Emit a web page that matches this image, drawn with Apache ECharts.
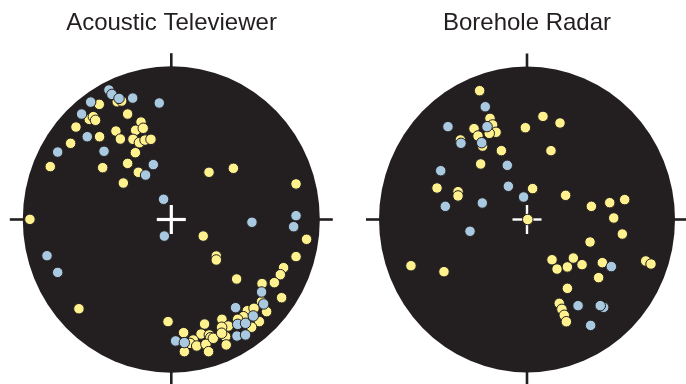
<!DOCTYPE html>
<html>
<head>
<meta charset="utf-8">
<script src="https://cdn.jsdelivr.net/npm/echarts@6/dist/echarts.min.js"></script>
<style>
  html, body { margin: 0; padding: 0; background: #ffffff; }
  #chart { width: 686px; height: 384px; }
</style>
</head>
<body>
<div id="chart"></div>
<script>
// Panel titles
const panelTitles = ['Acoustic Televiewer', 'Borehole Radar'];

// Pole positions on the stereonet, unit circle: [east, north]
const atvYellow = [
  [-0.364, 0.768], [-0.334, 0.773], [-0.485, 0.751], [-0.552, 0.653], [-0.525, 0.671],
  [-0.510, 0.647], [-0.294, 0.688], [-0.204, 0.636], [-0.642, 0.603], [-0.373, 0.577],
  [-0.240, 0.582], [-0.189, 0.595], [-0.483, 0.540], [-0.343, 0.525], [-0.258, 0.523],
  [-0.215, 0.501], [-0.177, 0.518], [-0.137, 0.523], [-0.678, 0.497], [-0.242, 0.436],
  [-0.815, 0.345], [-0.462, 0.338], [-0.294, 0.366], [-0.222, 0.308], [-0.323, 0.238],
  [0.254, 0.308], [0.418, 0.334], [0.840, 0.232], [-0.952, 0.001], [0.911, -0.129],
  [0.215, -0.108], [0.303, -0.238], [0.303, -0.264], [0.840, -0.242], [0.756, -0.314],
  [0.734, -0.360], [0.440, -0.388], [0.611, -0.418], [0.694, -0.412], [0.743, -0.510],
  [0.608, -0.536], [-0.622, -0.582], [0.512, -0.595], [0.557, -0.579], [0.642, -0.601],
  [0.485, -0.634], [0.447, -0.651], [-0.022, -0.666], [0.341, -0.651], [0.224, -0.682],
  [0.384, -0.695], [0.339, -0.703], [0.593, -0.666], [0.541, -0.703], [0.083, -0.738],
  [0.200, -0.747], [0.256, -0.753], [0.265, -0.771], [0.148, -0.786], [0.126, -0.808],
  [0.171, -0.825], [0.233, -0.814], [0.283, -0.775], [0.366, -0.764], [0.370, -0.818],
  [0.088, -0.862], [0.251, -0.862], [0.339, -0.742]
];
const atvBlue = [
  [-0.420, 0.845], [-0.400, 0.816], [-0.352, 0.790], [-0.260, 0.792], [-0.081, 0.760],
  [-0.543, 0.766], [-0.604, 0.688], [-0.566, 0.540], [-0.765, 0.440], [-0.453, 0.445],
  [-0.121, 0.358], [-0.173, 0.290], [-0.052, 0.132], [-0.047, -0.108], [0.543, -0.018],
  [0.840, 0.025], [0.824, -0.047], [-0.837, -0.236], [-0.765, -0.345], [0.608, -0.473],
  [0.622, -0.551], [0.433, -0.575], [0.552, -0.629], [0.447, -0.684], [0.500, -0.677],
  [0.442, -0.760], [0.500, -0.753], [0.029, -0.792], [0.088, -0.803]
];
const radarYellow = [
  [-0.320, 0.842], [-0.250, 0.661], [-0.232, 0.618], [-0.209, 0.570], [-0.255, 0.563],
  [-0.358, 0.594], [-0.331, 0.546], [-0.450, 0.520], [-0.300, 0.480], [-0.173, 0.450],
  [-0.011, 0.600], [0.108, 0.674], [0.223, 0.631], [0.162, 0.450], [-0.313, 0.363],
  [-0.608, 0.206], [-0.466, 0.182], [-0.466, 0.154], [0.038, 0.202], [0.261, 0.158],
  [0.435, 0.086], [0.559, 0.110], [0.660, 0.130], [0.586, 0.010], [0.005, 0.000],
  [0.644, -0.095], [0.426, -0.147], [0.169, -0.263], [0.313, -0.252], [0.203, -0.324],
  [0.273, -0.310], [0.372, -0.295], [0.509, -0.282], [0.802, -0.271], [0.838, -0.291],
  [-0.784, -0.302], [-0.561, -0.341], [0.484, -0.380], [0.273, -0.450], [0.218, -0.548],
  [0.236, -0.587], [0.252, -0.626], [0.266, -0.668]
];
const radarBlue = [
  [-0.282, 0.737], [-0.270, 0.607], [-0.534, 0.607], [-0.446, 0.498], [-0.306, 0.502],
  [-0.133, 0.354], [-0.583, 0.319], [-0.126, 0.217], [-0.023, 0.147], [-0.552, 0.086],
  [-0.302, 0.108], [-0.385, -0.077], [0.570, -0.308], [0.345, -0.563], [0.518, -0.574],
  [0.495, -0.563], [0.430, -0.692]
];

const INK = '#231f20';
const YELLOW = '#fff28e';
const BLUE = '#a9c9e1';

// Net outline, compass ticks and centre cross, drawn in data space
function netFrame(crossWidth) {
  return function (params, api) {
    const c = api.coord([0, 0]);
    const n = api.coord([0, 1]);
    const e = api.coord([1, 0]);
    const rx = e[0] - c[0];
    const ry = c[1] - n[1];
    const T = 13, H = 14.5;
    const tick = (x1, y1, x2, y2) => ({
      type: 'line', shape: { x1, y1, x2, y2 },
      style: { stroke: INK, lineWidth: 2.6 }
    });
    const cross = (x1, y1, x2, y2) => ({
      type: 'line', shape: { x1, y1, x2, y2 },
      style: { stroke: '#ffffff', lineWidth: crossWidth }
    });
    return {
      type: 'group',
      children: [
        { type: 'circle', x: c[0], y: c[1], scaleY: ry / rx,
          shape: { cx: 0, cy: 0, r: rx }, style: { fill: INK } },
        tick(c[0], c[1] - ry - T, c[0], c[1] - ry + 1),
        tick(c[0], c[1] + ry - 1, c[0], c[1] + ry + T),
        tick(c[0] - rx - T, c[1], c[0] - rx + 1, c[1]),
        tick(c[0] + rx - 1, c[1], c[0] + rx + T, c[1]),
        cross(c[0] - H, c[1], c[0] + H, c[1]),
        cross(c[0], c[1] - H, c[0], c[1] + H)
      ]
    };
  };
}

const grids = [
  { left: 22.8, top: 66.2, width: 297, height: 306.6 },
  { left: 379, top: 66.5, width: 296, height: 306 }
];

function axis(i) {
  return { gridIndex: i, type: 'value', min: -1, max: 1, show: false };
}

function dots(data, color, i) {
  return {
    type: 'scatter', xAxisIndex: i, yAxisIndex: i, data,
    symbol: 'circle', symbolSize: 10.5,
    itemStyle: { color, borderColor: INK, borderWidth: 1, opacity: 1 },
    emphasis: { disabled: true },
    silent: true, animation: false
  };
}

const chart = echarts.init(document.getElementById('chart'), null, { renderer: 'canvas' });
chart.setOption({
  backgroundColor: '#ffffff',
  animation: false,
  grid: grids,
  xAxis: [axis(0), axis(1)],
  yAxis: [axis(0), axis(1)],
  graphic: panelTitles.map((t, i) => ({
    type: 'text',
    x: [171.5, 527][i], y: 23,
    style: {
      text: t, textAlign: 'center', textVerticalAlign: 'middle',
      fontFamily: 'Liberation Sans', fontSize: 24, fill: INK
    }
  })),
  series: [
    { type: 'custom', xAxisIndex: 0, yAxisIndex: 0, data: [[0, 0]],
      renderItem: netFrame(3.2), silent: true, clip: false, z: 1 },
    { type: 'custom', xAxisIndex: 1, yAxisIndex: 1, data: [[0, 0]],
      renderItem: netFrame(2.4), silent: true, clip: false, z: 1 },
    dots(atvYellow, YELLOW, 0),
    dots(atvBlue, BLUE, 0),
    dots(radarYellow, YELLOW, 1),
    dots(radarBlue, BLUE, 1)
  ]
});
</script>
</body>
</html>
